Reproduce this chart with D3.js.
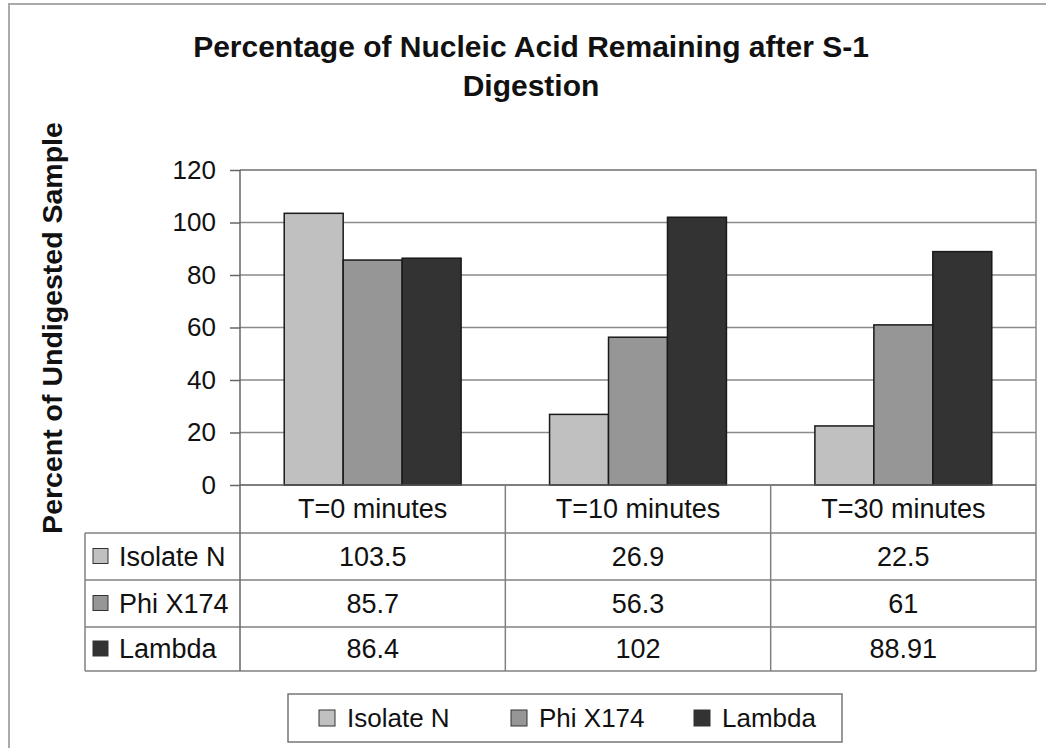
<!DOCTYPE html>
<html><head><meta charset="utf-8">
<script src="https://cdn.jsdelivr.net/npm/d3@7"></script>
<style>body{margin:0;background:#fff}svg{display:block}text{font-family:"Liberation Sans",Arial,sans-serif;fill:#111}</style>
</head><body>
<svg id="c" width="1046" height="748"></svg>
<script>
const categories = ["T=0 minutes", "T=10 minutes", "T=30 minutes"];
const seriesNames = ["Isolate N", "Phi X174", "Lambda"];
const isolateN = [103.5, 26.9, 22.5];
const phiX174 = [85.7, 56.3, 61];
const lambda = [86.4, 102, 88.91];
const tableLabels = [["103.5","26.9","22.5"],["85.7","56.3","61"],["86.4","102","88.91"]];
const yTicks = [0, 20, 40, 60, 80, 100, 120];
const colors = ["#c0c0c0", "#969696", "#333333"];
const title = ["Percentage of Nucleic Acid Remaining after S-1", "Digestion"];
const yLabel = "Percent of Undigested Sample";

const seriesValues = [isolateN, phiX174, lambda];
const svg = d3.select("#c");

// outer frame
svg.append("path").attr("d","M9,748 V4 H1046").attr("fill","none").attr("stroke","#aaa").attr("stroke-width",2);

const L = 240, R = 1036, T = 170, B = 485;
const x0 = d3.scaleBand().domain(categories).range([L, R]).padding(0);
const x1 = d3.scaleBand().domain(seriesNames).range([0, x0.bandwidth()]).paddingInner(0).paddingOuter(0.75);
const y = d3.scaleLinear().domain([0, 120]).range([B, T]);

// gridlines
svg.append("g").selectAll("line").data(yTicks.filter(t=>t>0)).join("line")
  .attr("x1", L).attr("x2", R).attr("y1", d=>y(d)).attr("y2", d=>y(d))
  .attr("stroke", "#8a8a8a").attr("stroke-width", 1.5);
svg.append("path").attr("d", `M${L},${T} H${R} V${B}`).attr("fill","none").attr("stroke","#8a8a8a").attr("stroke-width",1.5);

// y axis
const yAxis = d3.axisLeft(y).tickValues(yTicks).tickSize(10).tickPadding(14);
const ga = svg.append("g").attr("transform", `translate(${L},0)`).call(yAxis);
ga.select(".domain").remove();
ga.selectAll(".tick line").attr("stroke","#666").attr("stroke-width",1.5);
ga.selectAll(".tick text").style("font-size","26px").attr("fill","#111").attr("font-family",null);

// bars
const groups = svg.append("g").selectAll("g").data(categories).join("g")
  .attr("transform", d=>`translate(${x0(d)},0)`);
groups.selectAll("rect").data((c,ci)=>seriesNames.map((s,si)=>({s, si, v: seriesValues[si][ci]}))).join("rect")
  .attr("x", d=>x1(d.s)).attr("width", x1.bandwidth())
  .attr("y", d=>y(d.v)).attr("height", d=>y(0)-y(d.v))
  .attr("fill", d=>colors[d.si]).attr("stroke","#1a1a1a").attr("stroke-width",1.5);

// data table
const rowY = [B, 533, 580, 627, 671];
const tblLeft = 85;
const lineCol = "#808080";
svg.append("line").attr("x1",L).attr("x2",R).attr("y1",B).attr("y2",B).attr("stroke","#555").attr("stroke-width",1.5);
rowY.slice(1).forEach(yy=>{
  svg.append("line").attr("x1",tblLeft).attr("x2",R).attr("y1",yy).attr("y2",yy).attr("stroke",lineCol).attr("stroke-width",1.5);
});
svg.append("line").attr("x1",tblLeft).attr("x2",tblLeft).attr("y1",rowY[1]).attr("y2",rowY[4]).attr("stroke",lineCol).attr("stroke-width",1.5);
svg.append("line").attr("x1",L).attr("x2",L).attr("y1",T).attr("y2",rowY[4]).attr("stroke","#666").attr("stroke-width",1.5);
categories.forEach(c=>{
  const xr = x0(c)+x0.bandwidth();
  svg.append("line").attr("x1",xr).attr("x2",xr).attr("y1",B).attr("y2",rowY[4]).attr("stroke",lineCol).attr("stroke-width",1.5);
});
svg.append("g").selectAll("text").data(categories).join("text")
  .attr("x", d=>x0(d)+x0.bandwidth()/2).attr("y", (rowY[0]+rowY[1])/2+9)
  .attr("text-anchor","middle").style("font-size","27px").text(d=>d);
seriesNames.forEach((s,si)=>{
  const cy = (rowY[si+1]+rowY[si+2])/2;
  svg.append("rect").attr("x",93).attr("y",cy-8).attr("width",15).attr("height",15)
    .attr("fill",colors[si]).attr("stroke","#333").attr("stroke-width",1);
  svg.append("text").attr("x",119).attr("y",cy+9).style("font-size","27px").text(s);
  categories.forEach((c,ci)=>{
    svg.append("text").attr("x",x0(c)+x0.bandwidth()/2).attr("y",cy+9)
      .attr("text-anchor","middle").style("font-size","27px").text(tableLabels[si][ci]);
  });
});

// title
svg.append("g").selectAll("text").data(title).join("text")
  .attr("x", 531).attr("y",(d,i)=>57+i*39).attr("text-anchor","middle")
  .style("font-size","30px").style("font-weight","bold").text(d=>d);

// y label
svg.append("text").attr("transform","translate(62,328) rotate(-90)").attr("text-anchor","middle")
  .style("font-size","28.5px").style("font-weight","bold").text(yLabel);

// legend
svg.append("rect").attr("x",288).attr("y",694).attr("width",554).attr("height",48)
  .attr("fill","#fff").attr("stroke","#777").attr("stroke-width",1.5);
const legX = [319, 511, 694];
seriesNames.forEach((s,si)=>{
  svg.append("rect").attr("x",legX[si]).attr("y",710).attr("width",16).attr("height",16)
    .attr("fill",colors[si]).attr("stroke","#333").attr("stroke-width",1);
  svg.append("text").attr("x",legX[si]+28).attr("y",727).style("font-size","26px").text(s);
});
</script>
</body></html>
